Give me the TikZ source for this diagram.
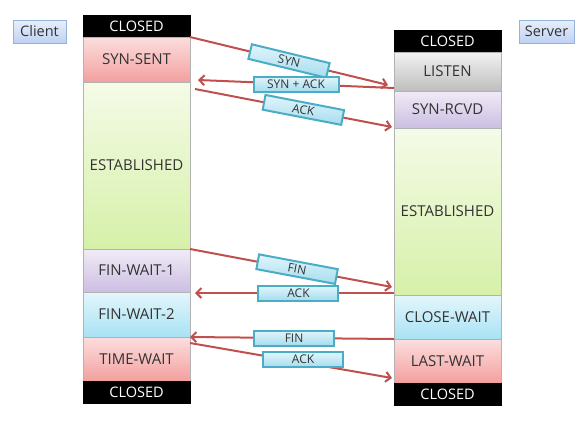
\documentclass[tikz,border=0pt]{standalone}
\usepackage{fontspec}
\setmainfont{Open Sans}
\usetikzlibrary{positioning,arrows.meta}

\definecolor{msgred}{RGB}{192,80,77}
\definecolor{msgline}{RGB}{75,172,198}
\definecolor{msgtop}{RGB}{226,245,251}
\definecolor{msgbot}{RGB}{165,221,238}
\definecolor{roleline}{RGB}{149,179,215}
\definecolor{roletop}{RGB}{232,239,251}
\definecolor{rolebot}{RGB}{190,209,242}
\definecolor{pinktop}{RGB}{252,222,222}
\definecolor{pinkbot}{RGB}{242,160,158}
\definecolor{greentop}{RGB}{245,251,232}
\definecolor{greenbot}{RGB}{214,240,168}
\definecolor{purpletop}{RGB}{241,235,247}
\definecolor{purplebot}{RGB}{204,190,226}
\definecolor{cyantop}{RGB}{228,246,252}
\definecolor{cyanbot}{RGB}{168,226,244}
\definecolor{graytop}{RGB}{242,242,242}
\definecolor{graybot}{RGB}{190,190,190}

\tikzset{
  stbox/.style={draw=black!30, minimum width=107pt, inner sep=0pt, outer sep=0pt,
    text=black!80, font=\fontsize{15}{17}\selectfont},
  closedbox/.style={stbox, fill=black, draw=black, text=white, minimum height=22pt,
    font=\fontsize{14.5}{16}\selectfont},
  pinkbox/.style={stbox, top color=pinktop, bottom color=pinkbot},
  greenbox/.style={stbox, top color=greentop, bottom color=greenbot},
  purplebox/.style={stbox, top color=purpletop, bottom color=purplebot},
  cyanbox/.style={stbox, top color=cyantop, bottom color=cyanbot},
  graybox/.style={stbox, top color=graytop, bottom color=graybot},
  rolebox/.style={draw=roleline, top color=roletop, bottom color=rolebot, minimum height=23pt,
    inner sep=0pt, text=black!80, font=\fontsize{14.5}{16}\selectfont},
  msg/.style={draw=msgline, top color=msgtop, bottom color=msgbot, minimum width=80pt,
    minimum height=15pt, inner sep=0pt, text=black!80, font=\fontsize{12}{14}\selectfont},
  arr/.style={draw=msgred, line width=2pt, -{Straight Barb[length=5pt,width=10pt]}},
}

\begin{document}
\begin{tikzpicture}[x=1pt,y=-1pt]
    \useasboundingbox (0,0) rectangle (585,429);
    % Define nodes
    % endpoints
    \node[rolebox, minimum width=53pt] (client) at (39.5,31.5) {Client}; %
    \node[rolebox, minimum width=55pt] (server) at (546.5,31.5) {Server}; %
    % client states
    \node[closedbox] (cclosed) at (136.5,26) {CLOSED}; %
    \node[pinkbox, minimum height=45pt, below=0pt of cclosed] (synsent) {SYN-SENT}; %
    \node[greenbox, minimum height=167pt, below=0pt of synsent] (cestab) {ESTABLISHED}; %
    \node[purplebox, minimum height=43pt, below=0pt of cestab] (finwait1) {FIN-WAIT-1}; %
    \node[cyanbox, minimum height=45pt, below=0pt of finwait1] (finwait2) {FIN-WAIT-2}; %
    \node[pinkbox, minimum height=44pt, below=0pt of finwait2] (timewait) {TIME-WAIT}; %
    \node[closedbox, below=0pt of timewait] (cclosedend) {CLOSED}; %
    % server states
    \node[closedbox] (sclosed) at (447.5,41) {CLOSED}; %
    \node[graybox, minimum height=39pt, below=0pt of sclosed] (listen) {LISTEN}; %
    \node[purplebox, minimum height=37pt, below=0pt of listen] (synrcvd) {SYN-RCVD}; %
    \node[greenbox, minimum height=167pt, below=0pt of synrcvd] (sestab) {ESTABLISHED}; %
    \node[cyanbox, minimum height=44pt, below=0pt of sestab] (closewait) {CLOSE-WAIT}; %
    \node[pinkbox, minimum height=44pt, below=0pt of closewait] (lastwait) {LAST-WAIT}; %
    \node[closedbox, below=0pt of lastwait] (sclosedend) {CLOSED}; %
    % handshake
    \draw[arr] (synsent.north east) -- ([xshift=-6pt,yshift=6pt]listen.south west)
        node[msg, sloped, pos=.5] (syn) {SYN};
    \draw[arr] ([yshift=3pt]listen.south west) -- ([xshift=8pt,yshift=2pt]synsent.south east)
        node[msg, pos=.5, minimum width=85pt] (synack) {SYN + ACK};
    \draw[arr] ([xshift=5pt,yshift=-7pt]synsent.south east) -- ([xshift=-2pt,yshift=1pt]synrcvd.south west)
        node[msg, sloped, pos=.55] (ack1) {ACK};
    % teardown
    \draw[arr] (finwait1.north east) -- ([xshift=-2pt,yshift=8pt]sestab.south west)
        node[msg, sloped, pos=.53] (fin1) {FIN};
    \draw[arr] ([yshift=2pt]sestab.south west) -- ([xshift=5pt,yshift=-1pt]finwait1.south east)
        node[msg, pos=.48] (ack2) {ACK};
    \draw[arr] (closewait.south west) -- (timewait.north east)
        node[msg, pos=.49] (fin2) {FIN};
    \draw[arr] ([yshift=-6pt]timewait.north east) -- ([xshift=-2pt,yshift=5pt]lastwait.south west)
        node[msg, pos=.56, yshift=3pt] (ack3) {ACK};
\end{tikzpicture}
\end{document}
